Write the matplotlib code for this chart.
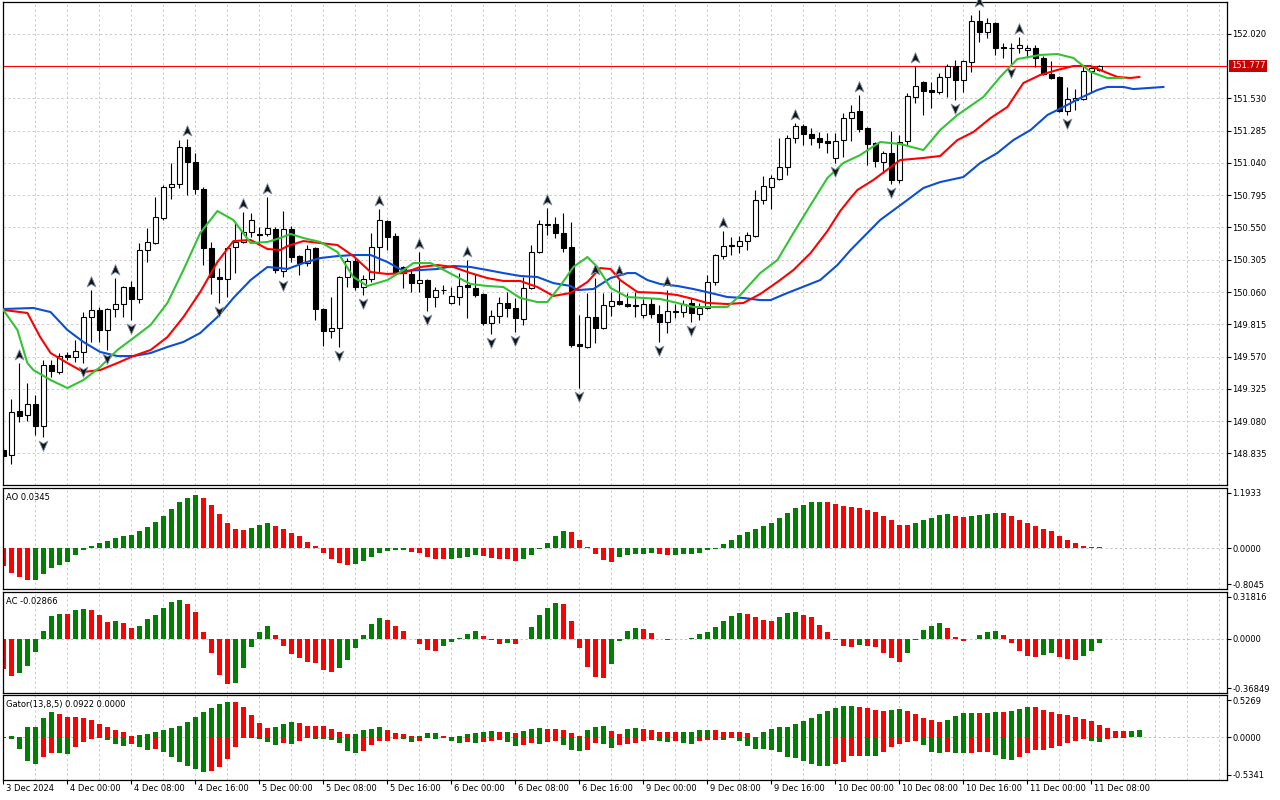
import numpy as np
import matplotlib
matplotlib.use('Agg')
import matplotlib.pyplot as plt
from matplotlib.path import Path
from matplotlib.transforms import offset_copy, blended_transform_factory

plt.rcParams['font.family'] = ['DejaVu Sans']
FS = 6.0

# ---------------- data ----------------
time_labels = ["3 Dec 2024", "4 Dec 00:00", "4 Dec 08:00", "4 Dec 16:00", "5 Dec 00:00",
               "5 Dec 08:00", "5 Dec 16:00", "6 Dec 00:00", "6 Dec 08:00", "6 Dec 16:00",
               "9 Dec 00:00", "9 Dec 08:00", "9 Dec 16:00", "10 Dec 00:00", "10 Dec 08:00",
               "10 Dec 16:00", "11 Dec 00:00", "11 Dec 08:00"]

ohlc = [
 (148.861,148.883,148.785,148.815),(148.823,149.248,148.754,149.149),(149.157,149.521,149.073,149.119),
 (149.126,149.369,149.081,149.210),(149.210,149.278,148.974,149.043),(149.043,149.544,148.959,149.506),
 (149.506,149.544,149.415,149.460),(149.453,149.597,149.438,149.574),(149.582,149.605,149.544,149.566),
 (149.566,149.696,149.529,149.612),(149.605,149.908,149.521,149.870),(149.870,150.075,149.681,149.924),
 (149.924,149.946,149.681,149.772),(149.772,149.939,149.620,149.931),(149.931,150.166,149.870,149.969),
 (149.969,150.106,149.870,150.098),(150.098,150.144,149.848,150.007),(150.007,150.432,149.977,150.379),
 (150.379,150.546,150.288,150.440),(150.432,150.782,150.424,150.630),(150.622,150.873,150.607,150.857),
 (150.857,151.040,150.766,150.880),(150.880,151.214,150.850,151.161),(151.161,151.222,150.797,151.047),
 (151.047,151.116,150.804,150.842),(150.842,150.857,150.265,150.394),(150.394,150.440,150.045,150.174),
 (150.174,150.242,149.977,150.159),(150.159,150.402,150.022,150.394),(150.402,150.584,150.204,150.440),
 (150.440,150.668,150.432,150.516),(150.516,150.660,150.478,150.607),(150.501,150.554,150.417,150.493),
 (150.501,150.782,150.486,150.546),(150.538,150.554,150.204,150.227),(150.220,150.675,150.174,150.538),
 (150.538,150.561,150.288,150.326),(150.333,150.341,150.189,150.280),(150.280,150.417,150.258,150.386),
 (150.394,150.402,149.848,149.931),(149.931,149.939,149.650,149.764),(149.764,150.022,149.711,149.787),
 (149.787,150.182,149.643,150.174),(150.174,150.318,150.098,150.296),(150.296,150.326,150.075,150.098),
 (150.098,150.189,150.037,150.159),(150.159,150.508,150.136,150.402),(150.402,150.690,150.204,150.607),
 (150.599,150.607,150.379,150.478),(150.486,150.508,150.189,150.204),(150.250,150.258,150.091,150.204),
 (150.197,150.227,150.060,150.128),(150.128,150.364,150.060,150.151),(150.151,150.159,149.916,150.022),
 (150.022,150.098,149.946,150.075),(150.075,150.113,150.045,150.078),(149.977,150.098,149.969,150.030),
 (150.022,150.204,149.961,150.106),(150.113,150.303,149.863,150.098),(150.091,150.197,150.022,150.037),
 (150.045,150.053,149.810,149.825),(149.825,149.924,149.741,149.878),(149.878,150.022,149.825,149.977),
 (149.977,150.060,149.870,149.939),(149.939,150.014,149.757,149.863),(149.855,150.174,149.810,150.091),
 (150.091,150.417,150.083,150.364),(150.364,150.607,150.356,150.577),(150.569,150.698,150.493,150.577),
 (150.577,150.630,150.470,150.508),(150.508,150.660,150.364,150.394),(150.402,150.592,149.643,149.658),
 (149.666,149.886,149.331,149.650),(149.643,150.053,149.635,149.870),(149.870,150.166,149.673,149.787),
 (149.787,150.053,149.780,149.961),(149.954,150.060,149.878,149.992),(149.992,150.159,149.961,149.969),
 (149.969,150.053,149.946,149.954),(149.961,150.060,149.870,149.954),(149.886,150.007,149.863,149.969),
 (149.969,150.014,149.863,149.893),(149.893,149.961,149.681,149.832),(149.832,150.075,149.749,149.916),
 (149.916,149.969,149.863,149.908),(149.908,149.999,149.870,149.969),(149.977,150.014,149.832,149.901),
 (149.893,149.977,149.848,149.939),(149.939,150.189,149.931,150.136),(150.136,150.349,150.113,150.341),
 (150.333,150.523,150.311,150.409),(150.409,150.478,150.341,150.417),(150.409,150.486,150.356,150.447),
 (150.447,150.516,150.379,150.493),(150.486,150.835,150.478,150.759),(150.759,150.941,150.728,150.865),
 (150.857,150.949,150.690,150.926),(150.918,151.230,150.911,151.009),(151.009,151.252,150.949,151.230),
 (151.230,151.343,151.192,151.321),(151.321,151.336,151.176,151.260),(151.260,151.305,151.176,151.230),
 (151.230,151.275,151.154,151.199),(151.207,151.267,151.116,151.192),(151.078,151.267,151.040,151.207),
 (151.214,151.419,151.085,151.381),(151.381,151.480,151.207,151.427),(151.434,151.556,151.275,151.298),
 (151.305,151.313,151.024,151.184),(151.192,151.199,151.009,151.055),(151.047,151.131,150.964,151.116),
 (151.116,151.283,150.880,150.911),(150.911,151.252,150.888,151.199),(151.207,151.571,151.176,151.548),
 (151.541,151.776,151.495,151.624),(151.655,151.662,151.404,151.586),(151.594,151.655,151.457,151.579),
 (151.579,151.723,151.564,151.693),(151.693,151.791,151.541,151.776),(151.776,151.822,151.518,151.670),
 (151.670,151.818,151.579,151.814),(151.807,152.163,151.731,152.118),(152.118,152.201,151.958,152.034),
 (152.034,152.141,151.989,152.103),(152.103,152.110,151.860,151.913),(151.920,151.951,151.837,151.913),
 (151.913,151.951,151.791,151.910),(151.913,151.996,151.875,151.936),(151.898,151.936,151.845,151.913),
 (151.913,151.936,151.769,151.837),(151.837,151.852,151.708,151.716),(151.716,151.814,151.678,151.685),
 (151.693,151.700,151.427,151.434),(151.434,151.617,151.404,151.526),(151.518,151.601,151.442,151.533),
 (151.526,151.784,151.518,151.738),(151.738,151.769,151.579,151.761),(151.746,151.784,151.738,151.777),
]
open_ = np.array([c[0] for c in ohlc])
high = np.array([c[1] for c in ohlc])
low = np.array([c[2] for c in ohlc])
close = np.array([c[3] for c in ohlc])

fractal_up = [2, 11, 14, 23, 30, 33, 47, 52, 58, 68, 74, 77, 83, 90, 99, 107, 114, 122, 127]
fractal_down = [5, 10, 13, 16, 27, 35, 42, 45, 53, 61, 64, 72, 82, 86, 104, 111, 119, 126, 133]

bid = 151.777

# Alligator lines (bar index, price)
jaw_bar = [0, 3.75, 5.9, 8, 10, 12.1, 14.25, 16.25, 18.4, 20.5, 22.5, 24.6, 26.75, 28.75, 30.9, 33, 34.6, 35.5,
           37.5, 39.6, 41.75, 43.75, 45.9, 48, 50, 52.1, 54.25, 56.25, 58.4, 60.5, 62.5, 64.6, 66.75, 68.75,
           70.9, 71.75, 73.75, 75.9, 78, 79, 80.5, 82.1, 84.25, 86.25, 88.4, 90.5, 92.5, 94.6, 95.9, 98, 99.6,
           102.1, 104.25, 105.9, 109.6, 113, 115, 117.1, 120, 122.1, 124.25, 126.25, 128.4, 130.5, 132.5,
           134.6, 136.75, 138, 140, 141.25, 145]
jaw_val = [149.931, 149.939, 149.908, 149.772, 149.681, 149.605, 149.574, 149.574, 149.597, 149.643, 149.681,
           149.749, 149.870, 150.015, 150.151, 150.250, 150.242, 150.235, 150.280, 150.318, 150.333, 150.341,
           150.341, 150.288, 150.220, 150.227, 150.235, 150.258, 150.250, 150.227, 150.204, 150.182, 150.174,
           150.128, 150.106, 150.075, 150.083, 150.166, 150.204, 150.204, 150.151, 150.121, 150.106, 150.083,
           150.053, 150.022, 150.015, 149.999, 149.999, 150.053, 150.091, 150.151, 150.265, 150.379, 150.607,
           150.759, 150.850, 150.895, 150.933, 151.040, 151.116, 151.214, 151.290, 151.404, 151.465, 151.533,
           151.594, 151.617, 151.617, 151.601, 151.617]
teeth_bar = [0, 3, 4.6, 5.9, 8, 10, 12.1, 14.25, 16.25, 18.4, 20.5, 22.5, 24.6, 26.75, 28.75, 30.9, 33, 34.6,
             35.5, 37.5, 39.6, 41.75, 43.75, 45.9, 48, 50, 52.1, 54.25, 56.25, 58.4, 60.5, 62.5, 64.6, 66.75,
             68.75, 70.9, 73, 74.6, 75.9, 77.1, 79.25, 82.1, 84.25, 86.25, 88, 90.5, 92.5, 94.6, 96.75, 98.75,
             100.9, 103, 104.6, 105.9, 106.75, 108.75, 112.1, 115, 117.1, 119.25, 121.25, 123.4, 125.5, 127.5,
             129.6, 131.75, 133.75, 135.9, 138, 139.25, 140.9, 142]
teeth_val = [149.924, 149.901, 149.718, 149.597, 149.521, 149.453, 149.468, 149.521, 149.574, 149.620, 149.718,
             149.870, 150.060, 150.288, 150.447, 150.455, 150.387, 150.379, 150.409, 150.447, 150.432, 150.417,
             150.333, 150.212, 150.197, 150.204, 150.250, 150.265, 150.250, 150.204, 150.166, 150.144, 150.144,
             150.098, 150.030, 150.053, 150.136, 150.242, 150.235, 150.151, 150.060, 150.053, 150.037, 150.007,
             149.977, 149.969, 149.977, 150.045, 150.136, 150.227, 150.356, 150.523, 150.675, 150.774, 150.835,
             150.911, 151.062, 151.078, 151.093, 151.214, 151.275, 151.381, 151.465, 151.647, 151.708, 151.746,
             151.776, 151.776, 151.723, 151.693, 151.685, 151.693]
lips_bar = [0, 1.75, 3, 3.75, 5.9, 8, 10, 12.1, 14.25, 16.25, 18.4, 20.5, 22.5, 24.6, 26.75, 28.75, 30.9, 33,
            34.6, 35.9, 37.5, 39.6, 41.75, 43.75, 45.5, 48, 50, 51.25, 53.4, 56.25, 58.4, 60.5, 62.5, 64.6,
            66.75, 68, 69.6, 71.25, 73, 74.25, 75.9, 78, 80, 82.1, 84.25, 86.25, 88.4, 90.5, 92.1, 94.6, 96.75,
            98.75, 100.9, 103, 105, 107.1, 109.6, 112.1, 115, 117.1, 119.25, 122.5, 124.6, 126.75, 129.6,
            131.75, 133.75, 135.9, 138, 140]
lips_val = [149.924, 149.772, 149.521, 149.468, 149.392, 149.331, 149.392, 149.491, 149.620, 149.711, 149.810,
            149.977, 150.227, 150.508, 150.675, 150.607, 150.432, 150.440, 150.470, 150.501, 150.470, 150.440,
            150.364, 150.174, 150.106, 150.151, 150.227, 150.280, 150.280, 150.189, 150.121, 150.106, 150.098,
            150.015, 149.984, 149.984, 150.106, 150.250, 150.326, 150.250, 150.091, 150.022, 150.015, 150.007,
            149.977, 149.946, 149.946, 149.946, 150.037, 150.204, 150.303, 150.508, 150.721, 150.926, 151.040,
            151.100, 151.199, 151.184, 151.138, 151.290, 151.404, 151.541, 151.693, 151.829, 151.860, 151.867,
            151.837, 151.731, 151.685, 151.685]

ao_values = [-0.348, -0.493, -0.558, -0.624, -0.618, -0.506, -0.381, -0.329, -0.269, -0.131,
             -0.026, 0.046, 0.105, 0.145, 0.204, 0.243, 0.269, 0.335, 0.420, 0.519,
             0.637, 0.782, 0.913, 1.005, 1.051, 0.992, 0.848, 0.677, 0.499, 0.374,
             0.361, 0.401, 0.453, 0.499, 0.440, 0.381, 0.302, 0.237, 0.125, 0.046,
             -0.085, -0.204, -0.283, -0.329, -0.302, -0.243, -0.164, -0.085, -0.046, -0.033,
             -0.026, -0.066, -0.085, -0.164, -0.204, -0.206, -0.202, -0.197, -0.164, -0.131,
             -0.151, -0.184, -0.204, -0.206, -0.250, -0.204, -0.131, -0.007, 0.105, 0.243,
             0.342, 0.322, 0.164, 0.020, -0.112, -0.223, -0.269, -0.171, -0.131, -0.112,
             -0.110, -0.085, -0.112, -0.131, -0.129, -0.105, -0.103, -0.085, -0.039, -0.007,
             0.085, 0.164, 0.263, 0.322, 0.381, 0.440, 0.499, 0.598, 0.696, 0.795,
             0.854, 0.913, 0.915, 0.912, 0.874, 0.834, 0.815, 0.795, 0.756, 0.716,
             0.637, 0.558, 0.460, 0.458, 0.499, 0.558, 0.598, 0.657, 0.677, 0.637,
             0.618, 0.637, 0.657, 0.677, 0.696, 0.694, 0.637, 0.558, 0.499, 0.440,
             0.381, 0.342, 0.243, 0.164, 0.105, 0.046, 0.026, 0.0345]
ao_colors = ("RRRRGGGGGG" "GGGGGGGGGG" "GGGGGRRRRR" "RGGGRRRRRR" "RRRRGGGGGG"
             "GRRRRRGGGG" "RRRRRGGGGG" "GRRRRRRGGG" "GGRRGGGGGG" "GGGGGGGGGG"
             "GGGRRRRRRR" "RRRRGGGGGR" "RGGGGRRRRR" "RRRRRRRG")

ac_values = [-0.2020, -0.2526, -0.2296, -0.1837, -0.0918, 0.0505, 0.1538, 0.1699, 0.1676, 0.1952,
             0.1998, 0.1952, 0.1607, 0.1125, 0.1194, 0.1056, 0.0712, 0.0850, 0.1332, 0.1607,
             0.2089, 0.2526, 0.2640, 0.2365, 0.1814, 0.0482, -0.0987, -0.2434, -0.3054, -0.2985,
             -0.1975, -0.0574, 0.0436, 0.0850, 0.0230, -0.0505, -0.1056, -0.1332, -0.1607, -0.1630,
             -0.2112, -0.2250, -0.1975, -0.1469, -0.0643, 0.0230, 0.0987, 0.1401, 0.1263, 0.0850,
             0.0505, -0.0023, -0.0367, -0.0781, -0.0850, -0.0505, -0.0230, 0.0023, 0.0321, 0.0505,
             0.0161, -0.0092, -0.0367, -0.0298, -0.0367, 0.0011, 0.0781, 0.1607, 0.2089, 0.2434,
             0.2365, 0.1194, -0.0643, -0.1906, -0.2572, -0.2663, -0.1745, -0.0161, 0.0505, 0.0712,
             0.0643, 0.0367, -0.0023, -0.0069, -0.0046, -0.0023, 0.0046, 0.0298, 0.0436, 0.0781,
             0.1194, 0.1538, 0.1745, 0.1676, 0.1469, 0.1263, 0.1194, 0.1469, 0.1745, 0.1814,
             0.1607, 0.1469, 0.0918, 0.0436, -0.0092, -0.0505, -0.0574, -0.0436, -0.0505, -0.0574,
             -0.0987, -0.1332, -0.1607, -0.0987, -0.0092, 0.0574, 0.0850, 0.1056, 0.0712, 0.0092,
             -0.0161, 0.0011, 0.0230, 0.0436, 0.0505, 0.0230, -0.0298, -0.0850, -0.1194, -0.1263,
             -0.1125, -0.0987, -0.1263, -0.1401, -0.1469, -0.1194, -0.0850, -0.02866]
ac_colors = ("RRGGGGGGRG" "GRRRGRRGGG" "GGGRRRRRRG" "GGGGRRRRRR" "RRGGGGGGRR"
             "RRRRRGGGGG" "RRRGRGGGGG" "RRRRRRGGGG" "RRRRGGGGGG" "GGGRRRRGGG"
             "RRRRRRRGRR" "RRRGGGGGRR" "RGGGGRRRRR" "GGRRRGGG")

gator_up = [0.008, 0.021, 0.004, 0.126, 0.130, 0.239, 0.310, 0.294, 0.252, 0.247,
            0.243, 0.210, 0.159, 0.126, 0.084, 0.063, 0.017, 0.025, 0.034, 0.063,
            0.092, 0.117, 0.134, 0.189, 0.252, 0.315, 0.369, 0.411, 0.440, 0.436,
            0.377, 0.273, 0.176, 0.117, 0.126, 0.159, 0.185, 0.180, 0.143, 0.138,
            0.134, 0.105, 0.071, 0.042, 0.046, 0.084, 0.105, 0.126, 0.084, 0.050,
            0.034, 0.013, 0.017, 0.050, 0.055, 0.021, 0.008, 0.013, 0.034, 0.050,
            0.063, 0.075, 0.063, 0.067, 0.050, 0.075, 0.101, 0.113, 0.105, 0.101,
            0.088, 0.050, 0.021, 0.088, 0.126, 0.138, 0.075, 0.038, 0.101, 0.113,
            0.101, 0.088, 0.067, 0.063, 0.059, 0.063, 0.067, 0.088, 0.092, 0.088,
            0.067, 0.063, 0.059, 0.050, 0.002, 0.063, 0.101, 0.126, 0.130, 0.164,
            0.201, 0.239, 0.289, 0.327, 0.365, 0.390, 0.394, 0.377, 0.365, 0.340,
            0.327, 0.340, 0.352, 0.327, 0.289, 0.239, 0.214, 0.189, 0.214, 0.264,
            0.302, 0.306, 0.302, 0.306, 0.315, 0.310, 0.331, 0.352, 0.377, 0.375,
            0.344, 0.319, 0.294, 0.277, 0.252, 0.226, 0.201, 0.155, 0.113, 0.080,
            0.075, 0.080, 0.0922]
gator_up_colors = ("GGRGGGGRRR" "RRRRRRRGGG" "GGGGGGGGGR" "RRRRGGGRRR" "RRRRGGGGRR"
                   "RRGGGRRGGG" "GGRGRGGGRR" "RRRGGGRRGG" "RRRRRGGGGR" "RRRRRGGGGG"
                   "GGGGGGGRRR" "RGGRRRRRGG" "GGRGGRGGGR" "RRRRRRRRRR" "RGG")
gator_down = [0.008, 0.021, 0.147, 0.302, 0.336, 0.252, 0.193, 0.201, 0.206, 0.117,
              0.063, 0.021, 0.004, 0.034, 0.084, 0.105, 0.084, 0.126, 0.159, 0.147,
              0.189, 0.243, 0.315, 0.356, 0.398, 0.432, 0.419, 0.377, 0.273, 0.117,
              0.008, 0.013, 0.021, 0.063, 0.092, 0.071, 0.084, 0.042, 0.008, 0.021,
              0.025, 0.029, 0.075, 0.168, 0.197, 0.168, 0.096, 0.050, 0.046, 0.021,
              0.025, 0.063, 0.050, 0.008, 0.021, 0.004, 0.050, 0.075, 0.063, 0.075,
              0.063, 0.050, 0.034, 0.063, 0.113, 0.096, 0.075, 0.080, 0.063, 0.050,
              0.096, 0.159, 0.176, 0.159, 0.075, 0.084, 0.134, 0.096, 0.084, 0.075,
              0.050, 0.034, 0.050, 0.055, 0.050, 0.075, 0.080, 0.050, 0.034, 0.029,
              0.034, 0.008, 0.050, 0.113, 0.147, 0.151, 0.155, 0.189, 0.252, 0.260,
              0.302, 0.336, 0.361, 0.365, 0.336, 0.315, 0.235, 0.231, 0.235, 0.239,
              0.185, 0.126, 0.084, 0.063, 0.050, 0.096, 0.185, 0.197, 0.185, 0.193,
              0.197, 0.193, 0.189, 0.185, 0.222, 0.273, 0.285, 0.243, 0.193, 0.159,
              0.157, 0.134, 0.105, 0.067, 0.046, 0.021, 0.042, 0.055, 0.025, 0.004, 0.008]
gator_down_colors = ("GGGGGRRGGR" "RRRGGGRGGR" "GGGGGGRRRR" "RGGGGRGRRG" "GGGGGRRRRR"
                     "GGRRGRGGRG" "RRRGGRRGRR" "GGGRRGGRRR" "RRGGRGGRRR" "GRGGGGGGGG"
                     "GGGGRRRRGG" "RRRRRGGGRG" "GRRRGGGRRR" "RRRRRRGGRRG")

price_ticks = [152.020, 151.530, 151.285, 151.040, 150.795, 150.550, 150.305,
               150.060, 149.815, 149.570, 149.325, 149.080, 148.835]
grid_prices = price_ticks + [151.775]
ao_lim = (-0.8045, 1.1933)
ac_lim = (-0.36849, 0.31816)
gator_lim = (-0.5341, 0.5269)

# ---------------- style ----------------
GREEN = '#008000'
RED = '#ff0000'
GRID = '#c6bccb'
GRID_LS = (0, (2.6, 3.2))
cmap = {'G': GREEN, 'R': RED}

fig = plt.figure(figsize=(12.8, 8), dpi=100)
W, H = 1280.0, 800.0


def rect(x0, y0, x1, y1):
    return [x0 / W, 1 - y1 / H, (x1 - x0) / W, (y1 - y0) / H]


ax_main = fig.add_axes(rect(3, 2, 1227, 485))
ax_ao = fig.add_axes(rect(3, 488, 1227, 589))
ax_ac = fig.add_axes(rect(3, 592, 1227, 693))
ax_g = fig.add_axes(rect(3, 695, 1227, 780))
axes = [ax_main, ax_ao, ax_ac, ax_g]

XLIM = (-0.05, 152.95)
for ax in axes:
    ax.set_xlim(*XLIM)
    for s in ax.spines.values():
        s.set_linewidth(0.9)
        s.set_color('black')
    for gx in range(4, 153, 4):
        ax.axvline(gx, color=GRID, lw=0.6, ls=GRID_LS, zorder=0)
    ax.yaxis.tick_right()
    ax.tick_params(axis='y', direction='out', length=3, width=0.8, labelsize=FS, pad=1.0, colors='black')
    ax.tick_params(axis='x', length=0, labelbottom=False)

# ---- main price panel ----
ax_main.set_ylim(148.595, 152.262)
for gp in grid_prices:
    ax_main.axhline(gp, color=GRID, lw=0.6, ls=GRID_LS, zorder=0)
ax_main.set_yticks(price_ticks)
ax_main.set_yticklabels(['%.3f' % p for p in price_ticks])

ax_main.axhline(bid, color=RED, lw=0.8, zorder=2)

x = np.arange(len(open_))
bull = close >= open_
ax_main.vlines(x, low, high, color='black', lw=0.8, zorder=3)
ax_main.bar(x, np.abs(close - open_), bottom=np.minimum(open_, close), width=0.62,
            color=np.where(bull, 'white', 'black'), edgecolor='black', linewidth=0.8, zorder=4)

ax_main.plot(jaw_bar, jaw_val, color='#0a4fd6', lw=1.5, zorder=5, solid_joinstyle='round')
ax_main.plot(teeth_bar, teeth_val, color='#ff0000', lw=1.5, zorder=5, solid_joinstyle='round')
ax_main.plot(lips_bar, lips_val, color='#33c433', lw=1.5, zorder=5, solid_joinstyle='round')

up_path = Path([(0, 1), (0.75, -0.75), (0, -0.3), (-0.75, -0.75), (0, 1)],
               [Path.MOVETO, Path.LINETO, Path.LINETO, Path.LINETO, Path.CLOSEPOLY])
dn_path = Path([(0, -1), (0.75, 0.75), (0, 0.3), (-0.75, 0.75), (0, -1)],
               [Path.MOVETO, Path.LINETO, Path.LINETO, Path.LINETO, Path.CLOSEPOLY])
tr_up = offset_copy(ax_main.transData, fig=fig, y=5.5, units='points')
tr_dn = offset_copy(ax_main.transData, fig=fig, y=-5.5, units='points')
ax_main.plot(fractal_up, high[fractal_up], ls='none', marker=up_path, ms=8.5, mfc='#151515',
             mec='#8494aa', mew=0.6, transform=tr_up, zorder=6, clip_on=False)
ax_main.plot(fractal_down, low[fractal_down], ls='none', marker=dn_path, ms=8.5, mfc='#151515',
             mec='#8494aa', mew=0.6, transform=tr_dn, zorder=6, clip_on=False)

bt = blended_transform_factory(ax_main.transAxes, ax_main.transData)
ax_main.annotate('%.3f' % bid, xy=(1, bid), xycoords=bt, xytext=(2.6, 0), textcoords='offset points',
                 ha='left', va='center', fontsize=FS, color='white', annotation_clip=False,
                 bbox=dict(boxstyle='square,pad=0.18', fc='#c80000', ec='none'))


# ---- sub panels ----
def edge_ticks(ax, lim, fmt_top, fmt_bot, px_h):
    ax.set_ylim(*lim)
    inset = (lim[1] - lim[0]) / px_h * 5.0
    ax.set_yticks([lim[1] - inset, 0.0, lim[0] + inset])
    ax.set_yticklabels([fmt_top, '0.0000', fmt_bot])
    ax.axhline(0, color='#aeb2c8', lw=0.6, ls=GRID_LS, zorder=0)


ao_x = np.arange(len(ao_values))
ax_ao.bar(ao_x, ao_values, width=0.62, color=[cmap[c] for c in ao_colors], zorder=2)
edge_ticks(ax_ao, ao_lim, '1.1933', '-0.8045', 101)

ac_x = np.arange(len(ac_values))
ax_ac.bar(ac_x, ac_values, width=0.62, color=[cmap[c] for c in ac_colors], zorder=2)
edge_ticks(ax_ac, ac_lim, '0.31816', '-0.36849', 101)

gu_x = np.arange(len(gator_up))
gd_x = np.arange(len(gator_down))
ax_g.bar(gu_x, gator_up, width=0.62, color=[cmap[c] for c in gator_up_colors], zorder=2)
ax_g.bar(gd_x, -np.array(gator_down), width=0.62, color=[cmap[c] for c in gator_down_colors], zorder=2)
edge_ticks(ax_g, gator_lim, '0.5269', '-0.5341', 85)

for ax, txt in [(ax_ao, 'AO 0.0345'), (ax_ac, 'AC -0.02866'), (ax_g, 'Gator(13,8,5) 0.0922 0.0000')]:
    ax.annotate(txt, xy=(0, 1), xycoords='axes fraction', xytext=(2.5, -6.6), textcoords='offset points',
                ha='left', va='center', fontsize=FS, color='black')

# ---- time axis ----
tick_pos = [8 * k for k in range(len(time_labels))]
ax_g.set_xticks(tick_pos)
ax_g.tick_params(axis='x', direction='out', length=3.2, width=0.8, labelbottom=False)
tb = offset_copy(blended_transform_factory(ax_g.transData, ax_g.transAxes), fig=fig, x=1.6, y=-3.0, units='points')
for pos, lab in zip(tick_pos, time_labels):
    ax_g.text(pos, 0, lab, transform=tb, ha='left', va='top', fontsize=FS, color='black', clip_on=False)

fig.savefig('out.png', dpi=100)
